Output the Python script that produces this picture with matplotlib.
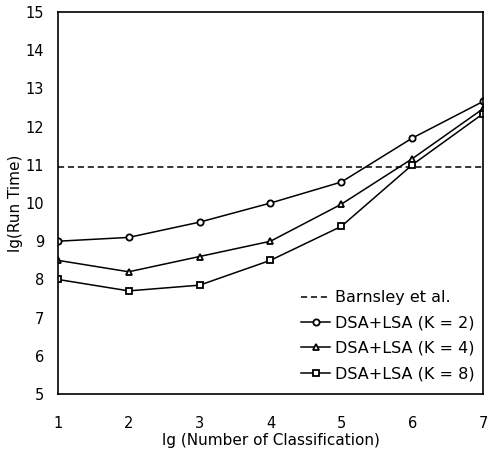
import matplotlib
matplotlib.use("Agg")
import matplotlib.pyplot as plt

x = [1, 2, 3, 4, 5, 6, 7]
k2 = [9.0, 9.1, 9.5, 10.0, 10.55, 11.7, 12.66]
k4 = [8.5, 8.2, 8.6, 9.0, 9.97, 11.16, 12.47]
k8 = [8.0, 7.7, 7.85, 8.5, 9.39, 11.0, 12.34]
barnsley = 10.95

plt.rcParams['font.family'] = ['DejaVu Sans']
fig = plt.figure(figsize=(4.9, 4.58), dpi=100)
ax = fig.add_axes([0.118, 0.1397, 0.868, 0.834])

ax.axhline(barnsley, color='black', ls=(0, (4, 2.5)), lw=1.1, label='Barnsley et al.')
ax.plot(x, k2, color='black', lw=1.1, marker='o', ms=4.5, mfc='white', mew=1.3, label='DSA+LSA (K = 2)')
ax.plot(x, k4, color='black', lw=1.1, marker='^', ms=4.5, mfc='white', mew=1.3, label='DSA+LSA (K = 4)')
ax.plot(x, k8, color='black', lw=1.1, marker='s', ms=4.0, mfc='white', mew=1.3, label='DSA+LSA (K = 8)')

ax.set_xlim(1, 7)
ax.set_ylim(5, 15)
ax.set_xticks(x)
ax.set_yticks(range(5, 16))
ax.tick_params(axis='x', length=0, labelsize=10.5, pad=16)
ax.set_xlabel('lg (Number of Classification)', fontsize=11, labelpad=1)
ax.tick_params(axis='y', length=0, labelsize=10.5, pad=10)
ax.set_ylabel('lg(Run Time)', fontsize=11, labelpad=2)
for s in ax.spines.values():
    s.set_linewidth(1.2)

ax.legend(loc='lower right', frameon=False, fontsize=11.5, handlelength=1.8,
          handletextpad=0.3, labelspacing=0.65, borderaxespad=0.4,
          bbox_to_anchor=(1.01, 0.0))

fig.savefig('out.png', dpi=100)
